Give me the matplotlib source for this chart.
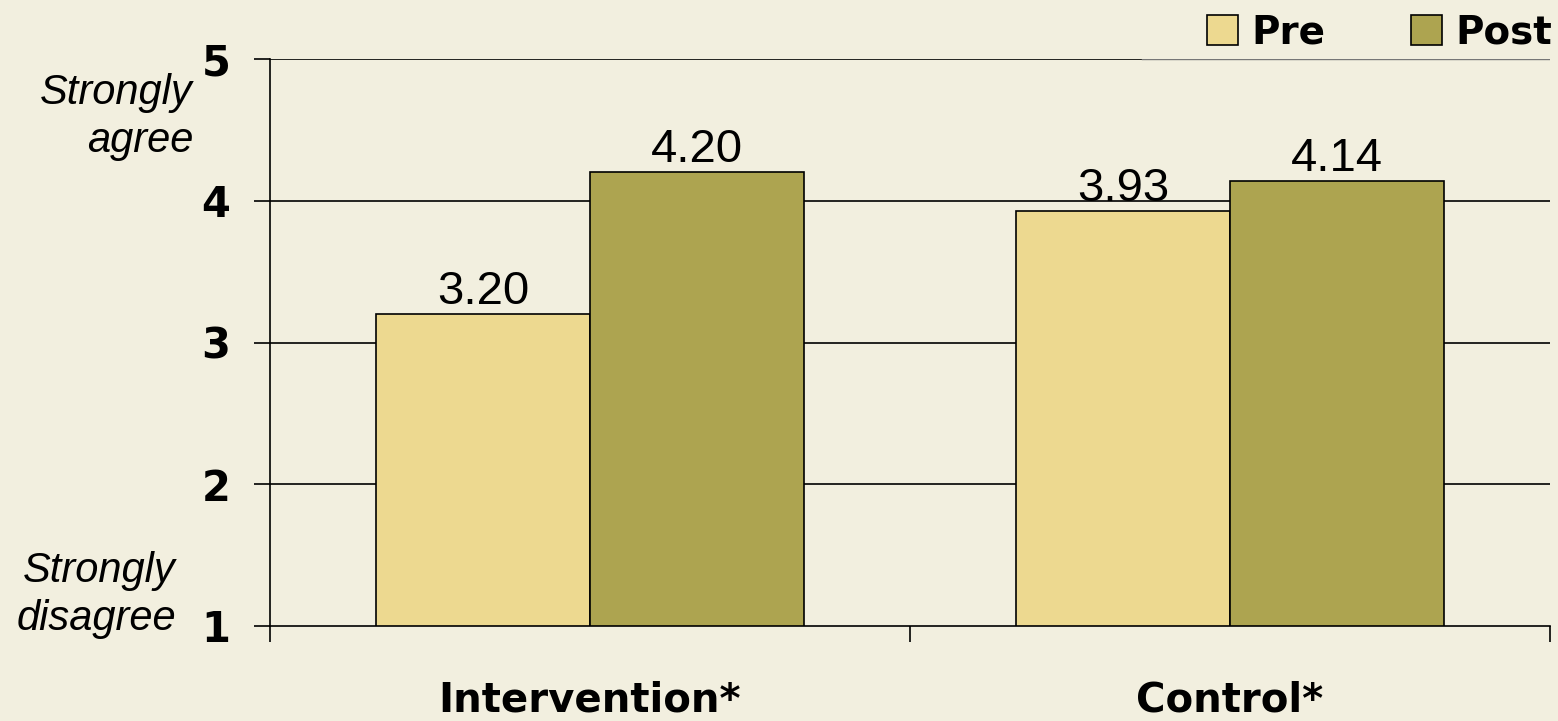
import numpy as np
import matplotlib
matplotlib.use("Agg")
import matplotlib.pyplot as plt
from matplotlib.ticker import FixedLocator

# data
groups = ["Intervention*", "Control*"]
series = ["Pre", "Post"]
pre_vals = [3.20, 3.93]
post_vals = [4.20, 4.14]
y_ticks = [1, 2, 3, 4, 5]

bg = "#F2EFDF"
col_pre = "#EDD990"
col_post = "#ADA450"

fig = plt.figure(figsize=(15.58, 7.21), dpi=100, facecolor=bg)
ax = fig.add_axes([270/1558, 1-626/721, 1280/1558, (626-59)/721])
ax.set_facecolor(bg)

x = np.arange(len(groups))
w = 0.334
b1 = ax.bar(x - w/2, np.array(pre_vals) - 1, w, bottom=1, color=col_pre,
            edgecolor="black", linewidth=1.2, label=series[0], zorder=3)
b2 = ax.bar(x + w/2, np.array(post_vals) - 1, w, bottom=1, color=col_post,
            edgecolor="black", linewidth=1.2, label=series[1], zorder=3)

for bars, vals in ((b1, pre_vals), (b2, post_vals)):
    for r, v in zip(bars, vals):
        ax.annotate("%.2f" % v, (r.get_x() + r.get_width()/2, v),
                    xytext=(0, 0), textcoords="offset points",
                    ha="center", va="bottom", fontsize=34,
                    family="Liberation Sans", zorder=4)

ax.set_xlim(-0.5, len(groups) - 0.5)
ax.set_ylim(1, 5)

# gridlines
for t in y_ticks[1:-1]:
    ax.axhline(t, color="black", lw=1.2, zorder=1)
ax.axhline(5, xmin=0, xmax=0.681, color="black", lw=1.2, zorder=1)
ax.axhline(5, xmin=0.681, xmax=1, color="#777777", lw=1.0, zorder=1)

for s in ["top", "right"]:
    ax.spines[s].set_visible(False)
ax.spines["left"].set_linewidth(1.2)
ax.spines["bottom"].set_linewidth(1.2)

ax.set_yticks(y_ticks)
ax.set_yticklabels([str(t) for t in y_ticks], fontsize=30, fontweight="bold")
ax.tick_params(axis="y", length=11.5, width=1.2, pad=17)

ax.set_xticks(x)
ax.set_xticklabels(groups, fontsize=29, fontweight="bold")
ax.tick_params(axis="x", which="major", length=0, pad=39)
ax.xaxis.set_minor_locator(FixedLocator(np.arange(len(groups) + 1) - 0.5))
ax.tick_params(axis="x", which="minor", length=11.5, width=1.2)

# scale end annotations
fig.text(193/1558, 1-117/721, "Strongly\nagree", ha="right", va="center",
         fontsize=30, style="italic", family="Liberation Sans", linespacing=1.25)
fig.text(176/1558, 1-595/721, "Strongly\ndisagree", ha="right", va="center",
         fontsize=30, style="italic", family="Liberation Sans", linespacing=1.25)

leg = fig.legend(handles=[b1, b2], labels=series, ncol=2, frameon=False,
                 loc="upper right", bbox_to_anchor=(1.019, 1.03),
                 prop={"size": 28, "weight": "bold"},
                 handlelength=0.8, handleheight=0.8, handletextpad=0.35,
                 columnspacing=2.2)

fig.savefig("out.png", dpi=100, facecolor=bg)
